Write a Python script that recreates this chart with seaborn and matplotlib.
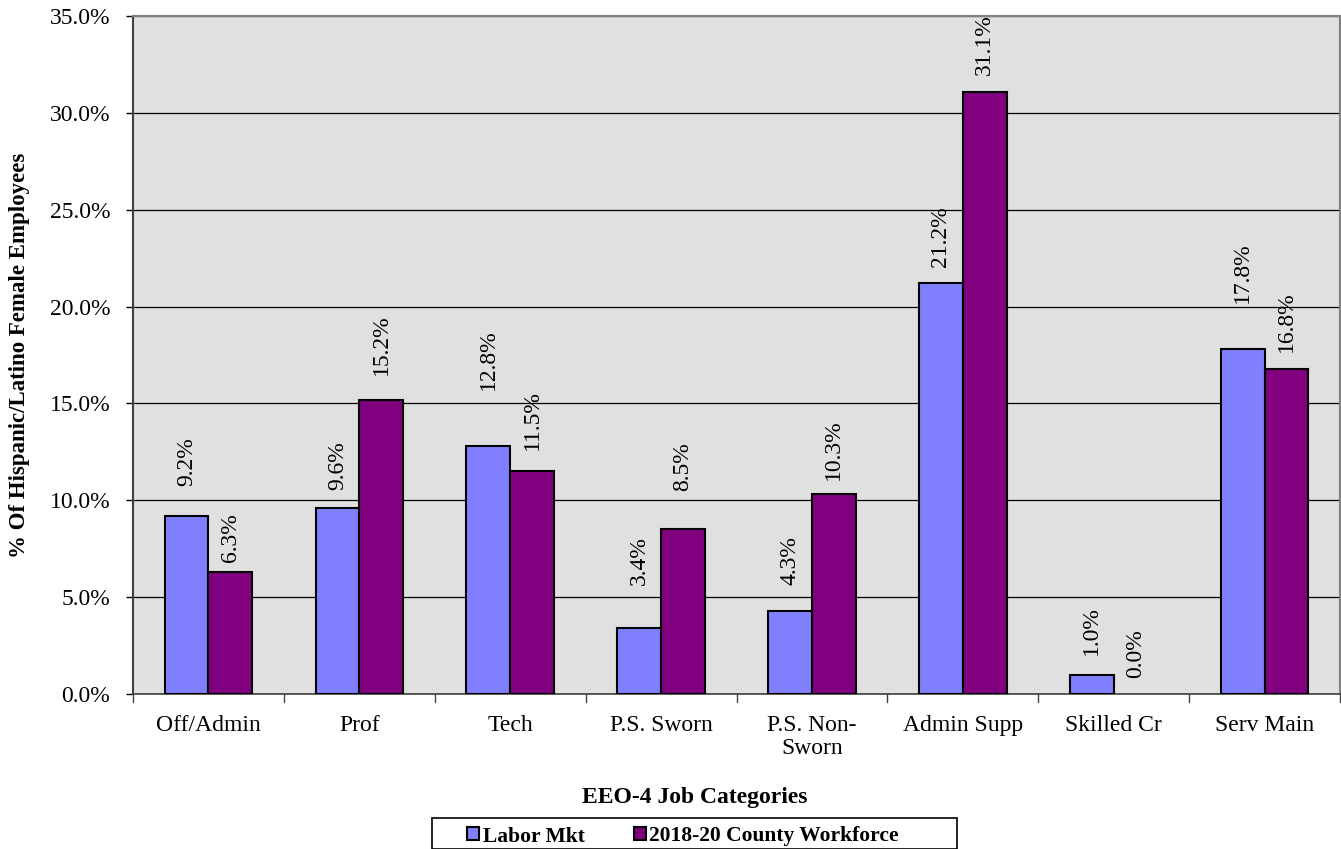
import matplotlib
matplotlib.use("Agg")
import matplotlib.pyplot as plt
import seaborn as sns
import pandas as pd
from matplotlib.ticker import FuncFormatter, MultipleLocator
from matplotlib.patches import Rectangle

categories = ["Off/Admin", "Prof", "Tech", "P.S. Sworn", "P.S. Non-\nSworn",
              "Admin Supp", "Skilled Cr", "Serv Main"]
labor_mkt = [9.2, 9.6, 12.8, 3.4, 4.3, 21.2, 1.0, 17.8]
county = [6.3, 15.2, 11.5, 8.5, 10.3, 31.1, 0.0, 16.8]
series_names = ["Labor Mkt", "2018-20 County Workforce"]

# label gap above each bar (pixels), as placed in the reference
labor_gap_px = [30, 18, 56, 43, 26, 16, 20, 46]
county_gap_px = [10, 25, 21, 38, 14, 17, 16, 17]

df = pd.DataFrame({
    "cat": categories * 2,
    "val": labor_mkt + county,
    "series": [series_names[0]] * len(categories) + [series_names[1]] * len(categories),
})

sns.set_theme(style="white")
plt.rcParams["font.family"] = ["Liberation Serif", "DejaVu Serif"]
for k in ["text.color", "axes.labelcolor", "xtick.color", "ytick.color"]:
    plt.rcParams[k] = "black"
FS = 17

fig = plt.figure(figsize=(13.41, 8.49), dpi=100)
ax = fig.add_axes([133 / 1341, 1 - 694 / 849, (1340 - 133) / 1341, (694 - 16) / 849])
ax.set_facecolor("#E0E0E0")

palette = {series_names[0]: "#8080FF", series_names[1]: "#800080"}
sns.barplot(data=df, x="cat", y="val", hue="series", palette=palette, ax=ax,
            width=0.58, edgecolor="black", linewidth=1.5, saturation=1, zorder=3)

for cont in ax.containers:
    for b in cont:
        if b.get_height() == 0:
            b.set_linewidth(0)

ax.set_ylim(0, 35)
ax.set_xlim(-0.5, len(categories) - 0.5)
ax.yaxis.set_major_locator(MultipleLocator(5))
ax.yaxis.set_major_formatter(FuncFormatter(lambda v, p: f"{v:.1f}%"))
ax.grid(axis="y", color="black", linewidth=0.9, zorder=1)
ax.set_axisbelow(True)

for cont, gaps in zip(ax.containers, [labor_gap_px, county_gap_px]):
    for b, g in zip(cont, gaps):
        ax.annotate(f"{b.get_height():.1f}%", (b.get_x() + b.get_width() / 2, b.get_height()),
                    xytext=(0, g * 0.72), textcoords="offset points", rotation=90,
                    ha="center", va="bottom", fontsize=FS, color="black")

ax.set_xticks(range(len(categories)))
ax.set_xticklabels(categories, fontsize=FS, linespacing=1.15)
ax.tick_params(axis="x", length=0, pad=15)
ax.tick_params(axis="y", labelsize=FS, length=5, width=1, color="black", direction="out", left=True, pad=11.5)
for xb in [-0.5] + [i + 0.5 for i in range(len(categories))]:
    ax.plot([xb, xb], [0, -0.012], transform=ax.get_xaxis_transform(), color="#404040",
            lw=1, clip_on=False)

for s in ["top", "right"]:
    ax.spines[s].set_color("#808080")
    ax.spines[s].set_linewidth(1.5)
ax.spines["left"].set_color("#404040")
ax.spines["left"].set_linewidth(1.5)
ax.spines["bottom"].set_color("#404040")
ax.spines["bottom"].set_linewidth(1.2)

ax.set_ylabel("% Of Hispanic/Latino Female Employees", fontsize=16.5, fontweight="bold", labelpad=14)
ax.set_xlabel("EEO-4 Job Categories", fontsize=FS, fontweight="bold")
ax.xaxis.set_label_coords((694.5 - 133) / 1207, -(797 - 694) / 678)
ax.xaxis.label.set_va("center")

ax.get_legend().remove()
handles = [Rectangle((0, 0), 1, 1, facecolor=palette[n], edgecolor="black", lw=1.5) for n in series_names]
leg = fig.legend(handles, series_names, loc="center", bbox_to_anchor=(683 / 1341, 1 - 836.5 / 849),
                 ncol=2, frameon=False, prop={"weight": "bold", "size": 15.5},
                 handlelength=0.56, handleheight=0.56, handletextpad=0.15, columnspacing=2.3,
                 borderpad=0, borderaxespad=0)
fig.patches.append(Rectangle((432 / 1341, 0.5 / 849), (957 - 432) / 1341, (849 - 818.5) / 849,
                             transform=fig.transFigure, facecolor="none", edgecolor="black",
                             lw=1.2, zorder=5))

fig.savefig("out.png", dpi=100)
